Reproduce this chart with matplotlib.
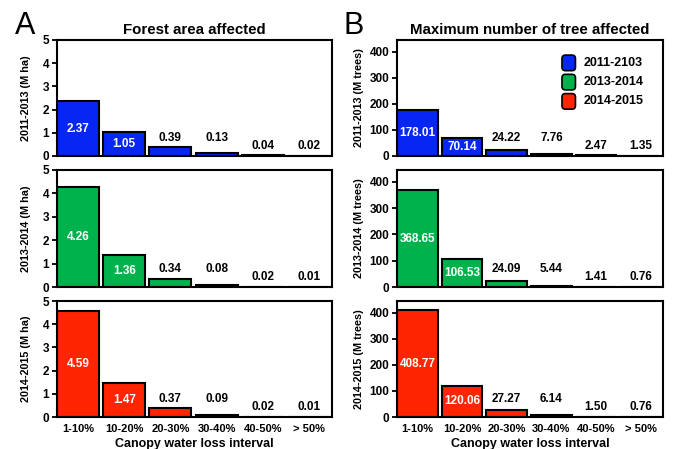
import matplotlib
matplotlib.use("Agg")
import matplotlib.pyplot as plt
from matplotlib.patches import FancyBboxPatch, Patch
from matplotlib.legend_handler import HandlerPatch

plt.rcParams['font.family'] = ['Liberation Sans', 'DejaVu Sans']

categories = ["1-10%", "10-20%", "20-30%", "30-40%", "40-50%", "> 50%"]
periods = ["2011-2013", "2013-2014", "2014-2015"]
legend_labels = ["2011-2103", "2013-2014", "2014-2015"]
colors = ["#0626F4", "#00B24C", "#FF2500"]

area_2011_2013 = [2.37, 1.05, 0.39, 0.13, 0.04, 0.02]
area_2013_2014 = [4.26, 1.36, 0.34, 0.08, 0.02, 0.01]
area_2014_2015 = [4.59, 1.47, 0.37, 0.09, 0.02, 0.01]

trees_2011_2013 = [178.01, 70.14, 24.22, 7.76, 2.47, 1.35]
trees_2013_2014 = [368.65, 106.53, 24.09, 5.44, 1.41, 0.76]
trees_2014_2015 = [408.77, 120.06, 27.27, 6.14, 1.50, 0.76]

area_ticks = [0, 1, 2, 3, 4, 5]
tree_ticks = [0, 100, 200, 300, 400]

W, H = 675, 449
fig = plt.figure(figsize=(W / 100, H / 100), dpi=100)


def px_axes(left, right, top, bottom):
    return fig.add_axes([left / W, 1 - bottom / H, (right - left) / W, (bottom - top) / H])


rows = [(40, 156), (170, 287), (301, 417)]
colsA = (57, 332)
colsB = (397, 663)


class RoundHandler(HandlerPatch):
    def create_artists(self, legend, orig_handle, xdescent, ydescent, width, height, fontsize, trans):
        p = FancyBboxPatch((-xdescent + 1.0, -ydescent - 2.0), width - 2, height + 2,
                           boxstyle="round,pad=0,rounding_size=2.5",
                           facecolor=orig_handle.get_facecolor(), edgecolor="black", lw=1.2,
                           transform=trans)
        return [p]


def draw(ax, vals, color, ylim, ticks, unit, period, last, fmt):
    x = list(range(len(vals)))
    ax.bar(x, vals, width=0.91, color=color, edgecolor="black", linewidth=1.5)
    ax.set_xlim(-0.455, 5.5)
    ax.set_ylim(*ylim)
    ax.set_yticks(ticks)
    for s in ax.spines.values():
        s.set_linewidth(1.5)
    ax.tick_params(axis="y", direction="out", length=3.5, width=1.3, pad=2,
                   labelsize=8.5)
    for lab in ax.get_yticklabels():
        lab.set_fontweight("bold")
    ax.tick_params(axis="x", length=0)
    if last:
        ax.set_xticks(x)
        ax.set_xticklabels(categories, fontsize=8, fontweight="bold")
        ax.tick_params(axis="x", pad=5)
        ax.set_xlabel("Canopy water loss interval", fontsize=9, fontweight="bold", labelpad=3)
    else:
        ax.set_xticks([])
    ax.set_ylabel(f"{period} ({unit})", fontsize=7.8, fontweight="bold", labelpad=3)
    for i, v in enumerate(vals):
        s = format(v, fmt)
        if i < 2:
            ax.text(i, v / 2, s, ha="center", va="center", color="white",
                    fontsize=8.5, fontweight="bold")
        else:
            yf = 0.155 if i < 4 else 0.085
            ax.text(i, yf, s, ha="center", va="center", color="black",
                    fontsize=8.5, fontweight="bold",
                    transform=ax.get_xaxis_transform())


area_sets = [area_2011_2013, area_2013_2014, area_2014_2015]
tree_sets = [trees_2011_2013, trees_2013_2014, trees_2014_2015]

axesA, axesB = [], []
for r, (top, bot) in enumerate(rows):
    axA = px_axes(colsA[0], colsA[1], top, bot)
    draw(axA, area_sets[r], colors[r], (0, 5), area_ticks, "M ha", periods[r], r == 2, ".2f")
    axesA.append(axA)
    axB = px_axes(colsB[0], colsB[1], top, bot)
    draw(axB, tree_sets[r], colors[r], (0, 445), tree_ticks, "M trees", periods[r], r == 2, ".2f")
    axesB.append(axB)

for ax in axesA:
    ax.yaxis.set_label_coords(-0.095, 0.5)
for ax in axesB:
    ax.yaxis.set_label_coords(-0.125, 0.5)

axesA[0].set_title("Forest area affected", fontsize=10.8, fontweight="bold", pad=4)
axesB[0].set_title("Maximum number of tree affected", fontsize=10.8, fontweight="bold", pad=4)

fig.text(15 / W, 1 - 34 / H, "A", fontsize=22, ha="left", va="baseline")
fig.text(343 / W, 1 - 34 / H, "B", fontsize=22, ha="left", va="baseline")

handles = [Patch(facecolor=c, edgecolor="black") for c in colors]
axesB[0].legend(handles, legend_labels, loc="upper left", bbox_to_anchor=(0.615, 0.87),
                frameon=False, prop={"size": 9, "weight": "bold"},
                handler_map={Patch: RoundHandler()}, handlelength=1.3, handleheight=1.2,
                handletextpad=0.55, labelspacing=0.45, borderpad=0, borderaxespad=0)

fig.savefig("out.png", dpi=100)
